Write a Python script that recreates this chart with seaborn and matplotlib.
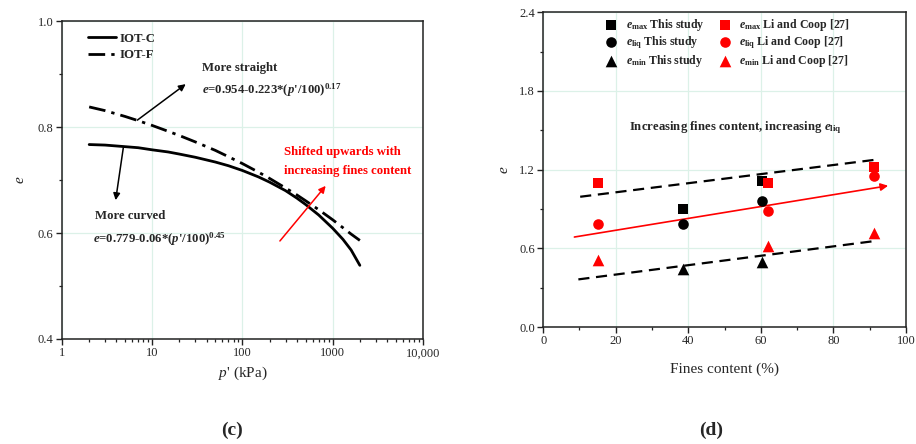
import numpy as np
import pandas as pd
import matplotlib
matplotlib.use("Agg")
import matplotlib.pyplot as plt
import seaborn as sns
from matplotlib.ticker import MultipleLocator, LogLocator, NullFormatter

# ---- data (c): critical state lines ----
p_kpa = [2, 3, 5, 7, 10, 15, 20, 30, 50, 70, 100, 150, 200, 300, 400, 500, 700,
         1000, 1300, 1600, 2000]
e_iot_c = [0.767, 0.766, 0.763, 0.761, 0.757, 0.753, 0.749, 0.743, 0.734, 0.727,
           0.718, 0.706, 0.696, 0.680, 0.666, 0.654, 0.634, 0.609, 0.588, 0.568, 0.539]
e_iot_f = [0.838, 0.831, 0.820, 0.812, 0.803, 0.792, 0.784, 0.772, 0.756, 0.744,
           0.731, 0.715, 0.703, 0.685, 0.672, 0.661, 0.644, 0.625, 0.610, 0.598, 0.586]
c_xticks = [1, 10, 100, 1000, 10000]
c_xticklabels = ["1", "10", "100", "1000", "10,000"]
c_yticks = [0.4, 0.6, 0.8, 1.0]

# ---- data (d): void ratios vs fines content ----
fc_this = [38.5, 60.3]
emax_this = [0.901, 1.112]
eliq_this = [0.782, 0.960]
emin_this = [0.444, 0.498]
fc_li = [15.0, 61.9, 91.1]
emax_li = [1.097, 1.097, 1.217]
eliq_li = [0.785, 0.881, 1.153]
emin_li = [0.510, 0.617, 0.714]
upper_fc = [10.2, 92.4]
upper_e = [0.993, 1.278]
lower_fc = [9.7, 92.1]
lower_e = [0.363, 0.658]
trend_fc = [8.6, 95.1]
trend_e = [0.686, 1.077]
d_xticks = [0, 20, 40, 60, 80, 100]
d_yticks = [0.0, 0.6, 1.2, 1.8, 2.4]

sns.set_theme(style="ticks")
plt.rcParams["font.family"] = ["Liberation Serif", "DejaVu Serif"]
plt.rcParams["mathtext.fontset"] = "custom"
plt.rcParams["mathtext.rm"] = "Liberation Serif:bold"
plt.rcParams["mathtext.bf"] = "Liberation Serif:bold"
plt.rcParams["mathtext.it"] = "Liberation Serif:bold:italic"
plt.rcParams["mathtext.cal"] = "Liberation Serif:italic"
plt.rcParams["xtick.direction"] = "out"
plt.rcParams["ytick.direction"] = "out"

grid_c = "#dcf1e8"
spine_c = "#222222"
fs = 9.2

fig = plt.figure(figsize=(9.16, 4.44), dpi=100)
ax1 = fig.add_axes([0.0677, 0.2365, 0.394, 0.716])
ax2 = fig.add_axes([0.593, 0.2635, 0.396, 0.709])

def style_ax(ax):
    for s in ax.spines.values():
        s.set_color(spine_c)
        s.set_linewidth(1.1)
    ax.tick_params(which="major", length=4, width=1, color=spine_c, labelsize=9, pad=2,
                   top=False, right=False)
    ax.tick_params(which="minor", length=2.5, width=0.9, color=spine_c, top=False, right=False)
    ax.grid(True, which="major", color=grid_c, linewidth=0.9)
    ax.set_axisbelow(True)

# ---------------- panel (c) ----------------
dfc = pd.DataFrame({"p": p_kpa * 2, "e": e_iot_c + e_iot_f,
                    "line": ["IOT-C"] * len(p_kpa) + ["IOT-F"] * len(p_kpa)})
sns.lineplot(data=dfc[dfc.line == "IOT-C"], x="p", y="e", ax=ax1, color="black",
             linewidth=2.0, label="IOT-C")
sns.lineplot(data=dfc[dfc.line == "IOT-F"], x="p", y="e", ax=ax1, color="black",
             linewidth=2.0, linestyle=(0, (6, 2.2, 1.2, 2.2)), label="IOT-F")
ax1.set_xscale("log")
ax1.set_xlim(1, 10000)
ax1.set_ylim(0.4, 1.0)
ax1.set_xticks(c_xticks)
ax1.set_xticklabels(c_xticklabels)
ax1.xaxis.set_minor_locator(LogLocator(base=10, subs=np.arange(2, 10)))
ax1.xaxis.set_minor_formatter(NullFormatter())
ax1.set_yticks(c_yticks)
ax1.yaxis.set_minor_locator(MultipleLocator(0.1))
style_ax(ax1)
ax1.set_xlabel(r"$\mathcal{p}$' (kPa)", fontsize=11, labelpad=4)
ax1.set_ylabel(r"$\mathcal{e}$", fontsize=11, labelpad=8)
ax1.legend(loc="upper left", bbox_to_anchor=(0.04, 1.0), frameon=False,
           handlelength=2.2, handletextpad=0.3, labelspacing=0.35,
           prop={"weight": "bold", "size": fs})

ax1.text(35.3, 0.912, "More straight", fontsize=fs, fontweight="bold", va="center")
ax1.text(35.3, 0.870, r"$e$=0.954-0.223*($p$'/$100)^{0.17}$", fontsize=fs,
         fontweight="bold", va="center")
ax1.text(2.3, 0.632, "More curved", fontsize=fs, fontweight="bold", va="center")
ax1.text(2.2, 0.588, r"$e$=0.779-0.06*($p$'/$100)^{0.45}$", fontsize=fs,
         fontweight="bold", va="center")
ax1.text(290, 0.753, "Shifted upwards with", fontsize=fs, fontweight="bold",
         color="red", va="center")
ax1.text(290, 0.718, "increasing fines content", fontsize=fs, fontweight="bold",
         color="red", va="center")
arr = dict(arrowstyle="-|>", color="black", lw=1.1, mutation_scale=10, shrinkA=0, shrinkB=0)
ax1.annotate("", xy=(23.5, 0.881), xytext=(6.83, 0.813), arrowprops=arr)
ax1.annotate("", xy=(3.93, 0.662), xytext=(4.78, 0.761), arrowprops=arr)
ax1.annotate("", xy=(836, 0.689), xytext=(260, 0.585),
             arrowprops=dict(arr, color="red"))

# ---------------- panel (d) ----------------
series = [
    (fc_this, emax_this, "s", "black", r"$e_{\mathrm{max}}$ This study", 48),
    (fc_this, eliq_this, "o", "black", r"$e_{\mathrm{liq}}$ This study", 58),
    (fc_this, emin_this, "^", "black", r"$e_{\mathrm{min}}$ This study", 70),
    (fc_li, emax_li, "s", "red", r"$e_{\mathrm{max}}$ Li and Coop [27]", 48),
    (fc_li, eliq_li, "o", "red", r"$e_{\mathrm{liq}}$ Li and Coop [27]", 58),
    (fc_li, emin_li, "^", "red", r"$e_{\mathrm{min}}$ Li and Coop [27]", 70),
]
sns.lineplot(x=upper_fc, y=upper_e, ax=ax2, color="black", linewidth=1.6,
             linestyle=(0, (5, 3)))
sns.lineplot(x=lower_fc, y=lower_e, ax=ax2, color="black", linewidth=1.6,
             linestyle=(0, (5, 3)))
ax2.annotate("", xy=(trend_fc[1], trend_e[1]), xytext=(trend_fc[0], trend_e[0]),
             arrowprops=dict(arrowstyle="-|>", color="red", lw=1.2, mutation_scale=11,
                             shrinkA=0, shrinkB=0))
for xs, ys, mk, col, lab, sz in series:
    sns.scatterplot(x=xs, y=ys, ax=ax2, marker=mk, color=col, s=sz, edgecolor=col,
                    linewidth=0, label=lab, zorder=3)
ax2.set_xlim(0, 100)
ax2.set_ylim(0, 2.4)
ax2.set_xticks(d_xticks)
ax2.set_yticks(d_yticks)
ax2.xaxis.set_minor_locator(MultipleLocator(10))
ax2.yaxis.set_minor_locator(MultipleLocator(0.3))
style_ax(ax2)
ax2.set_xlabel("Fines content (%)", fontsize=11, labelpad=11)
ax2.set_ylabel(r"$\mathcal{e}$", fontsize=11, labelpad=6)
ax2.legend(loc="upper left", bbox_to_anchor=(0.125, 1.02), ncol=2, frameon=False,
           handletextpad=0.2, labelspacing=0.15, columnspacing=0.7,
           prop={"size": 8.6, "weight": "bold"})
ax2.text(52.9, 1.522, r"Increasing fines content, increasing $e_{\mathrm{liq}}$",
         fontsize=fs, fontweight="bold", ha="center", va="center")

fig.text(232 / 916, 0.03, "(c)", fontsize=14, fontweight="bold", ha="center", va="center")
fig.text(711 / 916, 0.03, "(d)", fontsize=14, fontweight="bold", ha="center", va="center")

fig.savefig("out.png", dpi=100)
